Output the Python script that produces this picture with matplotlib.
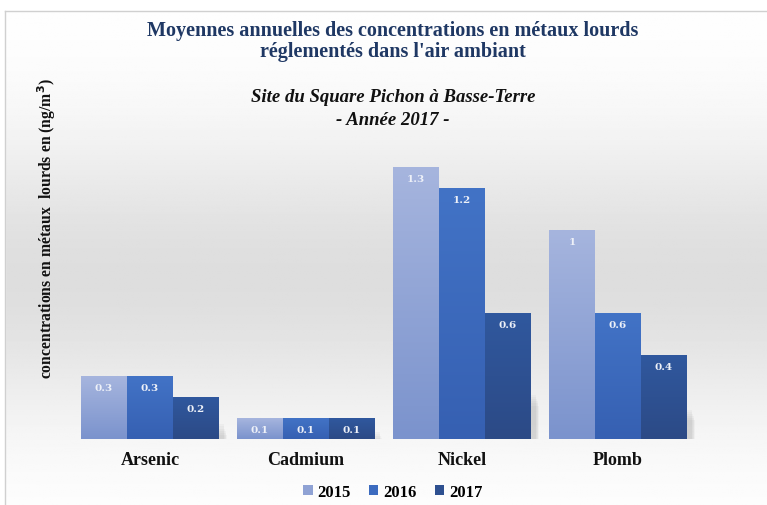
import numpy as np
import matplotlib
matplotlib.use("Agg")
import matplotlib.pyplot as plt
from matplotlib.colors import LinearSegmentedColormap
from matplotlib.patches import Rectangle

categories = ["Arsenic", "Cadmium", "Nickel", "Plomb"]
years = ["2015", "2016", "2017"]
v2015 = [0.3, 0.1, 1.3, 1.0]
v2016 = [0.3, 0.1, 1.2, 0.6]
v2017 = [0.2, 0.1, 0.6, 0.4]
labels2015 = ["0.3", "0.1", "1.3", "1"]
labels2016 = ["0.3", "0.1", "1.2", "0.6"]
labels2017 = ["0.2", "0.1", "0.6", "0.4"]

series = [v2015, v2016, v2017]
series_labels = [labels2015, labels2016, labels2017]
# (top colour, bottom colour, legend colour)
colors = [("#a6b5de", "#7b93cd", "#8fa2d4"),
          ("#4273c6", "#3660b2", "#3c6bbf"),
          ("#30589e", "#2c4a86", "#2e5090")]

W, H = 767, 506
fig = plt.figure(figsize=(W / 100, H / 100), dpi=100)

# background
bg = fig.add_axes([0, 0, 1, 1])
bg.set_axis_off()
yy = np.linspace(0, 1, 300)
prof = 1 - 0.13 * np.exp(-((yy - 0.55) / 0.28) ** 2)
img = np.tile(prof[:, None], (1, 10))
bg.imshow(img, cmap="gray", vmin=0, vmax=1, aspect="auto",
          extent=[0, 1, 0, 1], origin="upper")
bg.set_xlim(0, 1)
bg.set_ylim(0, 1)
bg.add_patch(Rectangle((0, 1 - 12 / H), 1, 12 / H, color="white", zorder=2))
bg.add_patch(Rectangle((0, 0), 5 / W, 1, color="white", zorder=2))
bg.plot([5 / W, 5 / W], [0, 1 - 12 / H], color="#d0d0d0", lw=1, zorder=3)
bg.plot([5 / W, 1], [1 - 12 / H, 1 - 12 / H], color="#d0d0d0", lw=1, zorder=3)

# main axes
left, right = 72, 696
base, top = 440, 147
ax = fig.add_axes([left / W, 1 - base / H, (right - left) / W, (base - top) / H])
ax.set_xlim(-0.5, 3.5)
ax.set_ylim(0, 1.4)
ax.patch.set_alpha(0)
for s in ax.spines.values():
    s.set_visible(False)
ax.set_xticks([])
ax.set_yticks([])

x = np.arange(len(categories))
bw = 46 / 156
offsets = [-bw, 0, bw]
serif = "Liberation Serif"

for i, (vals, labs, (ctop, cbot, cleg)) in enumerate(zip(series, series_labels, colors)):
    cmap = LinearSegmentedColormap.from_list("g%d" % i, [cbot, ctop])
    grad = np.linspace(0, 1, 100)[:, None]
    bars = ax.bar(x + offsets[i], vals, width=bw, color=cleg, label=years[i],
                  linewidth=0, zorder=2)
    for b, lab in zip(bars, labs):
        x0, y0 = b.get_x(), b.get_y()
        w, h = b.get_width(), b.get_height()
        # soft shadow
        for k in range(6):
            ax.add_patch(Rectangle((x0 + 0.03 + k * 0.004, 0.0), w, h * 0.35 - k * 0.01,
                                   color="#8a8a8a", alpha=0.06, lw=0, zorder=1))
        im = ax.imshow(grad, cmap=cmap, aspect="auto", origin="lower",
                       extent=[x0, x0 + w, y0, y0 + h], zorder=3)
        im.set_clip_path(b)
        ax.text(x0 + w / 2, h - 0.055, lab, ha="center", va="center",
                color="#eef1f8", fontsize=7.5, fontweight="bold",
                family="DejaVu Serif", zorder=4)

ax.set_xlim(-0.5, 3.5)
ax.set_ylim(0, 1.4)

for xi, c in zip(x, categories):
    fig.text((left + (xi + 0.5) * 156) / W, 1 - 461 / H, c, ha="center", va="center",
             fontsize=13, fontweight="bold", family=serif, color="#111111")

fig.text(393 / W, 1 - 31 / H, "Moyennes annuelles des concentrations en métaux lourds",
         ha="center", va="center", fontsize=14.5, fontweight="bold", family=serif,
         color="#1f3864")
fig.text(393 / W, 1 - 52 / H, "réglementés dans l'air ambiant",
         ha="center", va="center", fontsize=14.5, fontweight="bold", family=serif,
         color="#1f3864")
fig.text(393 / W, 1 - 98 / H, "Site du Square Pichon à Basse-Terre",
         ha="center", va="center", fontsize=13.5, fontweight="bold", style="italic",
         family=serif, color="#111111")
fig.text(393 / W, 1 - 121 / H, "- Année 2017 -",
         ha="center", va="center", fontsize=13.5, fontweight="bold", style="italic",
         family=serif, color="#111111")
fig.text(47 / W, 1 - 228 / H, "concentrations en métaux  lourds en (ng/m$^\\mathbf{3}$)",
         ha="center", va="center", rotation=90, fontsize=11.3, fontweight="bold",
         family=serif, color="#111111")

handles, labs = ax.get_legend_handles_labels()
fig.legend(handles, labs, loc="center", bbox_to_anchor=(393 / W, 1 - 493 / H), ncol=3,
           frameon=False, prop={"family": serif, "weight": "bold", "size": 12},
           handlelength=0.55, handleheight=0.55, handletextpad=0.3, columnspacing=1.1)

fig.savefig("out.png", dpi=100)
